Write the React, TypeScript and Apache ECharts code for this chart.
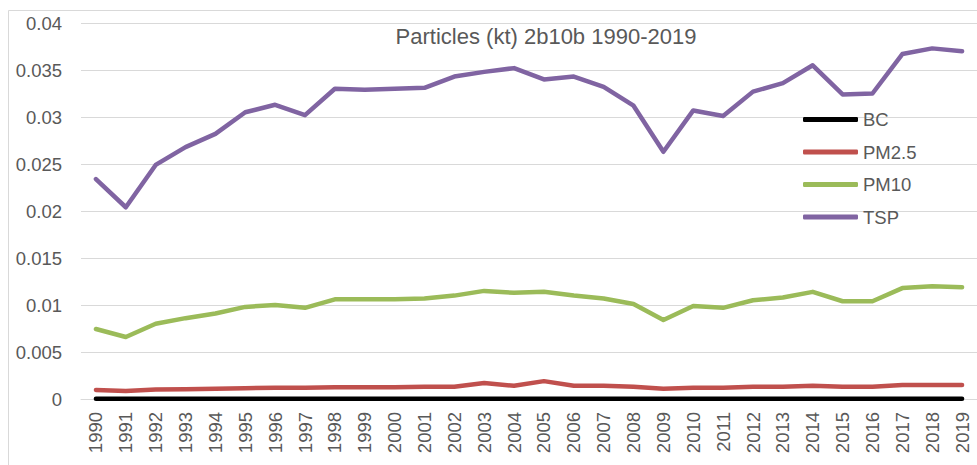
import React, { useEffect, useRef } from "react";
import * as echarts from "echarts";

const years = ["1990","1991","1992","1993","1994","1995","1996","1997","1998","1999","2000","2001","2002","2003","2004","2005","2006","2007","2008","2009","2010","2011","2012","2013","2014","2015","2016","2017","2018","2019"];
const bc = [0.00002,0.00002,0.00002,0.00002,0.00002,0.00002,0.00002,0.00002,0.00002,0.00002,0.00002,0.00002,0.00002,0.00002,0.00002,0.00002,0.00002,0.00002,0.00002,0.00002,0.00002,0.00002,0.00002,0.00002,0.00002,0.00002,0.00002,0.00002,0.00002,0.00002];
const pm25 = [0.00096,0.00085,0.001,0.00105,0.0011,0.00115,0.0012,0.0012,0.00125,0.00125,0.00125,0.0013,0.0013,0.0017,0.0014,0.0019,0.0014,0.0014,0.0013,0.0011,0.0012,0.0012,0.0013,0.0013,0.0014,0.0013,0.0013,0.0015,0.0015,0.0015];
const pm10 = [0.00745,0.0066,0.008,0.0086,0.0091,0.0098,0.01,0.0097,0.0106,0.0106,0.0106,0.0107,0.011,0.0115,0.0113,0.0114,0.011,0.0107,0.0101,0.0084,0.0099,0.0097,0.0105,0.0108,0.0114,0.0104,0.0104,0.0118,0.012,0.0119];
const tsp = [0.0234,0.0204,0.0249,0.0268,0.0282,0.0305,0.0313,0.0302,0.033,0.0329,0.033,0.0331,0.0343,0.0348,0.0352,0.034,0.0343,0.0332,0.0312,0.0263,0.0307,0.0301,0.0327,0.0336,0.0355,0.0324,0.0325,0.0367,0.0373,0.037];

const FONT = "Liberation Sans";
const TXT = "#595959";

export default function App() {
  const ref = useRef<HTMLDivElement>(null);
  useEffect(() => {
    const chart = echarts.init(ref.current!, null, { renderer: "svg" });
    const mk = (name: string, data: number[], color: string) => ({
      name,
      type: "line",
      data,
      showSymbol: false,
      symbol: "none",
      lineStyle: { color, width: 4.5, cap: "round", join: "round" },
      itemStyle: { color },
    });
    chart.setOption({
      animation: false,
      backgroundColor: "#ffffff",
      textStyle: { fontFamily: FONT },
      title: {
        text: "Particles (kt) 2b10b 1990-2019",
        left: 546,
        top: 25,
        textAlign: "center",
        padding: 0,
        textStyle: { fontFamily: FONT, fontSize: 22, fontWeight: "normal", color: TXT },
      },
      graphic: [
        {
          type: "rect",
          shape: { x: 8.5, y: 10.5, width: 1000, height: 1000 },
          style: { fill: "none", stroke: "#d9d9d9", lineWidth: 1 },
          silent: true,
        },
      ],
      legend: {
        orient: "vertical",
        left: 803,
        top: 110,
        padding: 0,
        itemWidth: 55,
        itemHeight: 5,
        itemGap: 13.5,
        icon: "roundRect",
        textStyle: { fontFamily: FONT, fontSize: 18.5, color: TXT, lineHeight: 19, padding: [0, 0, 0, 0] },
        data: ["BC", "PM2.5", "PM10", "TSP"],
      },
      grid: { left: 81, right: -11, top: 23, bottom: 66, containLabel: false },
      xAxis: {
        type: "category",
        data: years,
        boundaryGap: true,
        axisLine: { show: true, lineStyle: { color: "#d9d9d9" } },
        axisTick: { show: false },
        axisLabel: { rotate: 90, interval: 0, fontSize: 18.5, color: TXT, fontFamily: FONT, margin: 13 },
      },
      yAxis: {
        type: "value",
        min: 0,
        max: 0.04,
        interval: 0.005,
        axisLine: { show: false },
        axisTick: { show: false },
        splitLine: { lineStyle: { color: "#d9d9d9", width: 1 } },
        axisLabel: {
          fontSize: 18.5,
          color: TXT,
          fontFamily: FONT,
          margin: 19,
          formatter: (v: number) => String(parseFloat(v.toFixed(4))),
        },
      },
      series: [
        mk("BC", bc, "#000000"),
        mk("PM2.5", pm25, "#C0504D"),
        mk("PM10", pm10, "#9BBB59"),
        mk("TSP", tsp, "#8064A2"),
      ],
    });
    return () => chart.dispose();
  }, []);
  return (
    <div
      ref={ref}
      style={{ position: "absolute", left: 0, top: 0, width: 977, height: 465, overflow: "hidden" }}
    />
  );
}
